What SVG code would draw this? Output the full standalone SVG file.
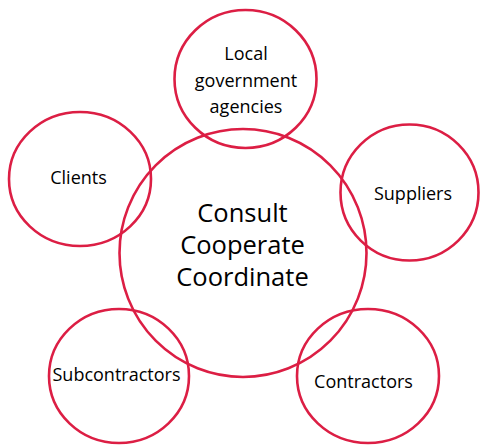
<svg xmlns="http://www.w3.org/2000/svg" width="481" height="445" viewBox="0 0 481 445">
  <style>
    .ring { fill: none; stroke: #dc1e44; stroke-width: 2.6; }
    .lbl { font-family: "Open Sans", "Noto Sans", "Liberation Sans", sans-serif; font-size: 18px; fill: #000; text-anchor: middle; }
    .core { font-size: 25.5px; }
  </style>
  <rect width="481" height="445" fill="#fff"/>
  <g id="connectors"/>
  <g id="node-government">
    <ellipse class="ring" cx="245.5" cy="79" rx="71" ry="69"/>
    <text class="lbl" x="246" y="60">Local</text>
    <text class="lbl" x="246" y="87">government</text>
    <text class="lbl" x="246" y="112.5">agencies</text>
  </g>
  <g id="node-clients">
    <ellipse class="ring" cx="80" cy="179" rx="71" ry="67"/>
    <text class="lbl" x="78.5" y="184">Clients</text>
  </g>
  <g id="node-suppliers">
    <ellipse class="ring" cx="409.5" cy="192.5" rx="69" ry="68"/>
    <text class="lbl" x="413" y="200">Suppliers</text>
  </g>
  <g id="node-core">
    <ellipse class="ring" cx="243" cy="253" rx="123.5" ry="124"/>
    <text class="lbl core" x="242.5" y="222">Consult</text>
    <text class="lbl core" x="242.5" y="254">Cooperate</text>
    <text class="lbl core" x="242.5" y="286">Coordinate</text>
  </g>
  <g id="node-subcontractors">
    <ellipse class="ring" cx="119" cy="376" rx="70" ry="67"/>
    <text class="lbl" x="116.5" y="381">Subcontractors</text>
  </g>
  <g id="node-contractors">
    <ellipse class="ring" cx="368" cy="376" rx="71" ry="67"/>
    <text class="lbl" x="363.5" y="388">Contractors</text>
  </g>
</svg>
